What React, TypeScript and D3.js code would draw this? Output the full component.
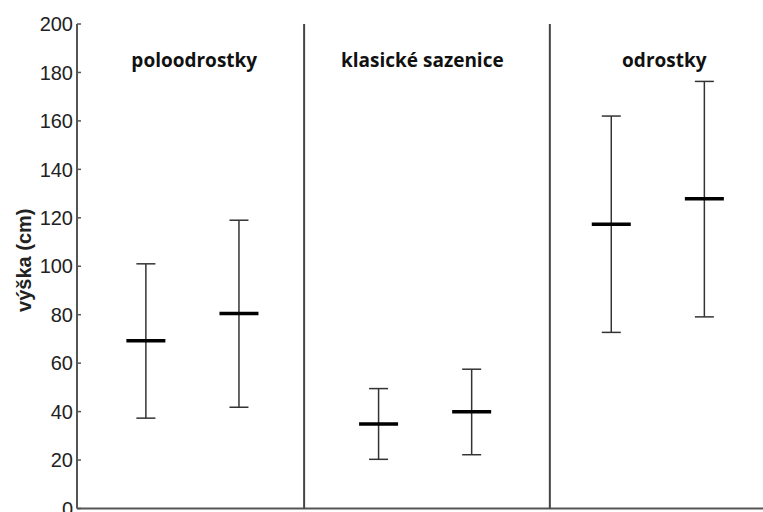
import React from "react";
import * as d3 from "d3";

// Seedling groups and the two measured sets within each group
const groups = ["poloodrostky", "klasické sazenice", "odrostky"];
const titleSlot = [0.52, 2.97, 5.57];
const slot = [0, 1, 2.5, 3.5, 5, 6];
const means = [69.2, 80.5, 34.9, 39.9, 117.3, 127.9];
const lower = [37.3, 41.8, 20.3, 22.2, 72.7, 79.1];
const upper = [101, 119, 49.5, 57.5, 162, 176.3];
const dividers = [1.7, 4.34];
const yTicks = [0, 20, 40, 60, 80, 100, 120, 140, 160, 180, 200];

const W = 763;
const H = 512;

export default function App() {
  const x = d3.scaleLinear().domain([-0.74, 6.63]).range([77, 763]);
  const y = d3.scaleLinear().domain([0, 200]).range([508.5, 24]);
  const capHalf = 9.5;
  const meanHalf = 19.5;
  const x0 = x(-0.74);

  return (
    <svg
      width={W}
      height={H}
      style={{ position: "absolute", left: 0, top: 0, background: "#fff" }}
    >
      {/* y axis */}
      <line x1={x0} x2={x0} y1={y(200)} y2={y(0)} stroke="#555" strokeWidth={2} />
      {yTicks.map((t) => (
        <g key={t}>
          <line x1={x0} x2={x0 + 4} y1={y(t)} y2={y(t)} stroke="#555" strokeWidth={1.5} />
          <text
            x={x0 - 4}
            y={y(t)}
            dy="0.36em"
            textAnchor="end"
            fontFamily="Liberation Sans, Arial, sans-serif"
            fontSize={20}
            fill="#222"
          >
            {t}
          </text>
        </g>
      ))}
      {/* baseline */}
      <line x1={x0} x2={W} y1={y(0)} y2={y(0)} stroke="#555" strokeWidth={2} />
      {/* group dividers */}
      {dividers.map((d) => (
        <line key={d} x1={x(d)} x2={x(d)} y1={y(200)} y2={y(0)} stroke="#444" strokeWidth={2} />
      ))}
      {/* axis title */}
      <text
        transform={`translate(31, ${y(100) - 6}) rotate(-90)`}
        textAnchor="middle"
        fontFamily="Liberation Sans, Arial, sans-serif"
        fontWeight="bold"
        fontSize={20}
        fill="#222"
      >
        výška (cm)
      </text>
      {/* group titles */}
      {groups.map((g, i) => (
        <text
          key={g}
          x={x(titleSlot[i])}
          y={67}
          textAnchor="middle"
          fontFamily="'Open Sans', sans-serif"
          fontWeight="bold"
          fontSize={19}
          fill="#111"
        >
          {g}
        </text>
      ))}
      {/* ranges with means */}
      {means.map((m, i) => {
        const cx = x(slot[i]);
        return (
          <g key={i}>
            <line x1={cx} x2={cx} y1={y(upper[i])} y2={y(lower[i])} stroke="#333" strokeWidth={1.5} />
            <line x1={cx - capHalf} x2={cx + capHalf} y1={y(upper[i])} y2={y(upper[i])} stroke="#333" strokeWidth={1.5} />
            <line x1={cx - capHalf} x2={cx + capHalf} y1={y(lower[i])} y2={y(lower[i])} stroke="#333" strokeWidth={1.5} />
            <line x1={cx - meanHalf} x2={cx + meanHalf} y1={y(m)} y2={y(m)} stroke="#000" strokeWidth={3.5} />
          </g>
        );
      })}
    </svg>
  );
}
